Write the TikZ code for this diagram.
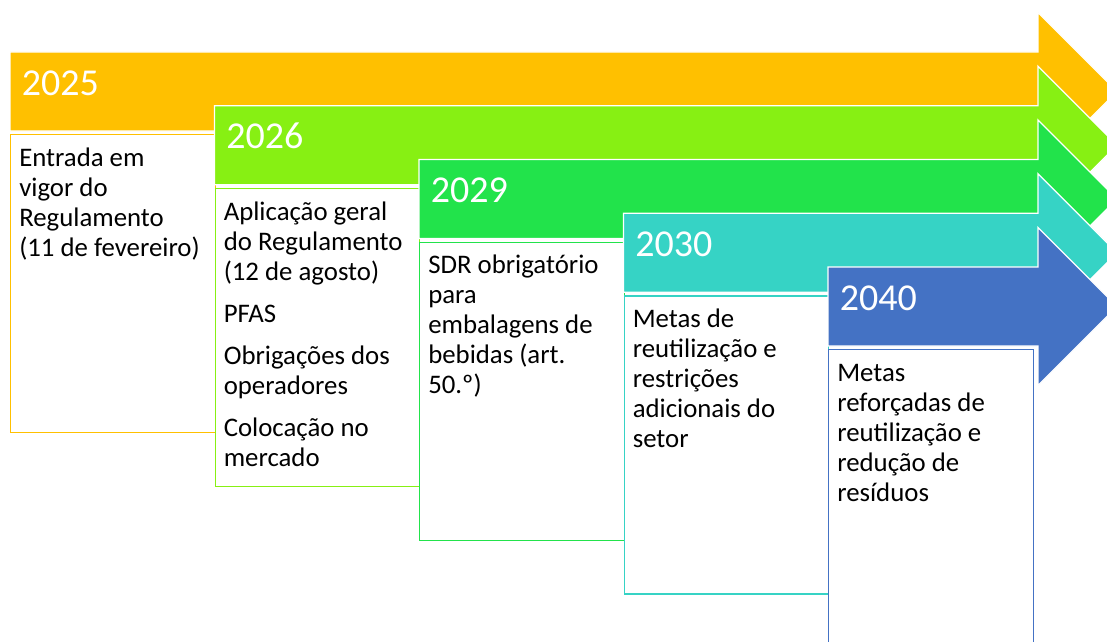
\documentclass[tikz,border=0pt]{standalone}
\usepackage{fontspec}
\setmainfont{Carlito}
\definecolor{cA}{HTML}{FFC000}
\definecolor{cB}{HTML}{87F013}
\definecolor{cC}{HTML}{22E34B}
\definecolor{cD}{HTML}{36D3C5}
\definecolor{cE}{HTML}{4472C4}
\begin{document}
\begin{tikzpicture}[x=0.75pt,y=-0.75pt,
  arrowshape/.style={fill=#1, draw=white, line width=1pt, line join=miter},
  boxshape/.style={draw=#1, fill=white, line width=1pt, inner sep=0pt,
    minimum width=153.4pt, minimum height=223.5pt, anchor=north west},
  yeartext/.style={text=white, anchor=base west, inner sep=0pt,
    font=\fontsize{28.5}{34}\selectfont},
  bodytext/.style={text=black, anchor=north west, inner sep=0pt, align=left,
    font=\fontsize{20.1}{22.5}\selectfont}]
\useasboundingbox (0,0) rectangle (1107,642);
\clip (0,0) rectangle (1107,642);
\foreach \k/\col/\yr in {0/cA/2025,1/cB/2026,2/cC/2029,3/cD/2030,4/cE/2040}{
  \pgfmathsetmacro{\L}{10+204.5*\k}
  \pgfmathsetmacro{\C}{91.5+53.75*\k}
  \draw[arrowshape=\col] (\L,\C-39.5) -- (1038,\C-39.5) -- (1038,\C-79)
     -- (1117,\C) -- (1038,\C+79) -- (1038,\C+39.5) -- (\L,\C+39.5) -- cycle;
  \node[yeartext] (y\k) at (\L+11.5,\C+3.5) {\yr};
  \node[boxshape=\col] (b\k) at (\L,\C+42.5) {};
}
\node[bodytext] (t0) at (19,145) {\strut Entrada em\\vigor do\\Regulamento\\(11 de fevereiro)};
\node[bodytext] (t1) at (223.5,198.75) {\strut Aplicação geral\\do Regulamento\\(12 de agosto)\\[9pt]PFAS\\[9pt]Obrigações dos\\operadores\\[9pt]Colocação no\\mercado};
\node[bodytext] (t2) at (428,252.5) {\strut SDR obrigatório\\para\\embalagens de\\bebidas (art.\\50.º)};
\node[bodytext] (t3) at (632.5,306.25) {\strut Metas de\\reutilização e\\restrições\\adicionais do\\setor};
\node[bodytext] (t4) at (837,360) {\strut Metas\\reforçadas de\\reutilização e\\redução de\\resíduos};
\end{tikzpicture}
\end{document}
